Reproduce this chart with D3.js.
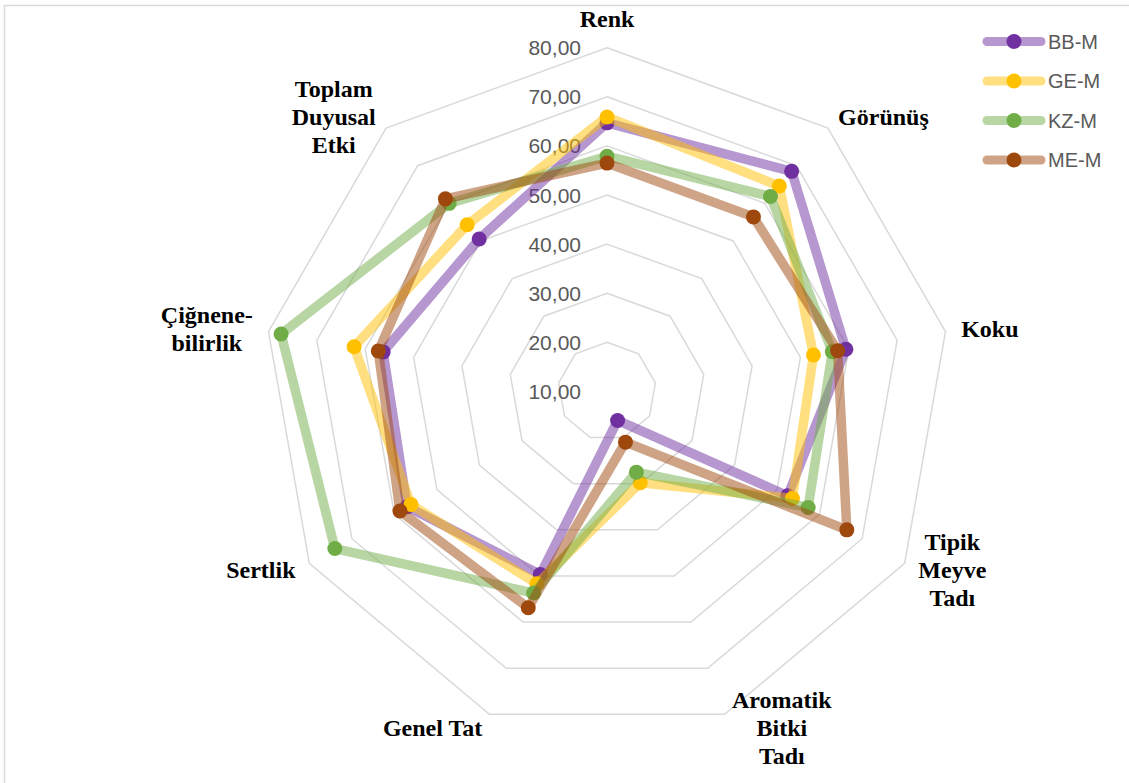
<!DOCTYPE html>
<html>
<head>
<meta charset="utf-8">
<script src="https://cdn.jsdelivr.net/npm/d3@7/dist/d3.min.js"></script>
<style>
  html, body { margin: 0; padding: 0; background: #fff; }
  svg { display: block; }
</style>
</head>
<body>
<svg id="chart" width="1129" height="783"></svg>
<script>
// Sensory attributes (axes), clockwise from the top
const categories = [
  ["Renk"],
  ["Görünüş"],
  ["Koku"],
  ["Tipik", "Meyve", "Tadı"],
  ["Aromatik", "Bitki", "Tadı"],
  ["Genel Tat"],
  ["Sertlik"],
  ["Çiğnene-", "bilirlik"],
  ["Toplam", "Duyusal", "Etki"]
];

// Panel scores per sample
const seriesNames = ["BB-M", "GE-M", "KZ-M", "ME-M"];
const bbM = [64.7, 68.5, 59.4, 52.5, 16.3, 49.7, 57.0, 56.3, 50.5];
const geM = [65.9, 64.6, 52.7, 53.6, 29.8, 51.7, 56.1, 62.3, 54.3];
const kzM = [57.9, 61.8, 56.6, 57.3, 27.5, 53.7, 74.0, 77.4, 60.0];
const meM = [56.5, 56.4, 57.7, 66.4, 21.0, 56.9, 58.7, 57.3, 61.2];

// Radial axis ticks
const tickValues = [10, 20, 30, 40, 50, 60, 70, 80];
const tickLabels = ["10,00", "20,00", "30,00", "40,00", "50,00", "60,00", "70,00", "80,00"];

const markerColors = ["#7030A0", "#FFC000", "#70AD47", "#9E480E"];
const seriesValues = [bbM, geM, kzM, meM];

const svg = d3.select("#chart");
const cx = 607, cy = 391.4, R = 343.7;
const n = categories.length;

const r = d3.scaleLinear().domain([10, 80]).range([0, R]);
const angle = d3.scaleLinear().domain([0, n]).range([0, 2 * Math.PI]);

const pt = (i, v) => {
  const a = angle(i);
  return [cx + r(v) * Math.sin(a), cy - r(v) * Math.cos(a)];
};

// Outer frame
svg.append("rect")
  .attr("x", 4.5).attr("y", 5.5)
  .attr("width", 1140).attr("height", 800)
  .attr("fill", "none").attr("stroke", "#d9d9d9").attr("stroke-width", 1.5);

// Polygon gridlines (no ring at the centre value)
const grid = svg.append("g");
tickValues.filter(t => t > 10).forEach(t => {
  const pts = d3.range(n).map(i => pt(i, t));
  grid.append("path")
    .attr("d", d3.line()(pts) + "Z")
    .attr("fill", "none")
    .attr("stroke", "#d9d9d9")
    .attr("stroke-width", 1.5);
});

// Radial tick labels along the top axis
svg.append("g").selectAll("text")
  .data(tickValues)
  .join("text")
  .attr("x", 581)
  .attr("y", d => cy - r(d))
  .attr("dy", "0.36em")
  .attr("text-anchor", "end")
  .attr("font-family", "Liberation Sans, Arial, sans-serif")
  .attr("font-size", 21)
  .attr("fill", "#595959")
  .text((d, i) => tickLabels[i]);

// Category labels outside the outer ring
const lineH = 28;
const lab = svg.append("g")
  .attr("font-family", "Liberation Serif, 'Times New Roman', serif")
  .attr("font-weight", "bold")
  .attr("font-size", 24)
  .attr("fill", "#000");

categories.forEach((lines, i) => {
  const a = angle(i);
  const s = Math.sin(a), c = Math.cos(a);
  const [vx, vy] = pt(i, 80);
  const t = lab.append("text").attr("text-anchor", "middle");
  lines.forEach((ln, k) => t.append("tspan").attr("x", 0).attr("dy", k === 0 ? 0 : lineH).text(ln));
  const bb = t.node().getBBox();
  const w = bb.width, h = lines.length * lineH;
  let bx, by;
  if (Math.abs(s) < 0.1) {
    bx = vx;
    by = vy - 15 - h / 2;
  } else {
    const gap = 16 - 10 * c * c;
    bx = s > 0 ? vx + gap + w / 2 : vx - gap - w / 2;
    by = vy - c * 14;
  }
  // first baseline so that the block is vertically centred on by
  const firstBase = by - h / 2 + lineH / 2 + 8;
  t.attr("transform", `translate(${bx},${firstBase})`);
});

// Series lines and markers
seriesValues.forEach((vals, si) => {
  const g = svg.append("g");
  const pts = vals.map((v, i) => pt(i, v));
  g.append("path")
    .attr("d", d3.line()(pts) + "Z")
    .attr("fill", "none")
    .attr("stroke", markerColors[si])
    .attr("stroke-opacity", 0.5)
    .attr("stroke-width", 9.5)
    .attr("stroke-linejoin", "round");
  g.selectAll("circle")
    .data(pts)
    .join("circle")
    .attr("cx", d => d[0])
    .attr("cy", d => d[1])
    .attr("r", 7.5)
    .attr("fill", markerColors[si]);
});

// Legend
const leg = svg.append("g");
const legY = d3.scaleLinear().domain([0, 3]).range([41.5, 160]);
seriesNames.forEach((name, si) => {
  const y = legY(si);
  leg.append("line")
    .attr("x1", 987).attr("x2", 1041)
    .attr("y1", y).attr("y2", y)
    .attr("stroke", markerColors[si])
    .attr("stroke-opacity", 0.5)
    .attr("stroke-width", 9)
    .attr("stroke-linecap", "round");
  leg.append("circle")
    .attr("cx", 1014).attr("cy", y).attr("r", 7.5)
    .attr("fill", markerColors[si]);
  leg.append("text")
    .attr("x", 1048).attr("y", y).attr("dy", "0.36em")
    .attr("font-family", "Liberation Sans, Arial, sans-serif")
    .attr("font-size", 20)
    .attr("fill", "#595959")
    .text(name);
});
</script>
</body>
</html>
